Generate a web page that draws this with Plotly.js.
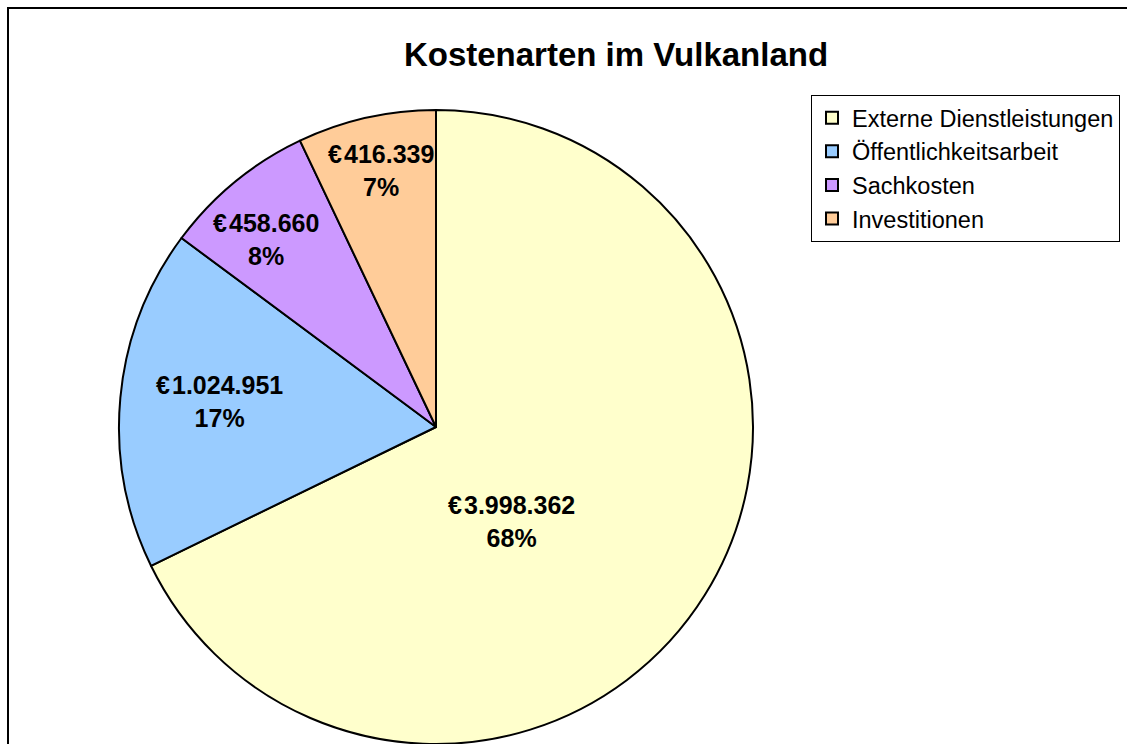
<!DOCTYPE html>
<html>
<head>
<meta charset="utf-8">
<script src="https://cdn.plot.ly/plotly-3.0.1.min.js"></script>
<style>html,body{margin:0;padding:0;background:#fff;}#chart{width:1127px;height:744px;}</style>
</head>
<body>
<div id="chart"></div>
<script>
const categories = ["Externe Dienstleistungen", "Öffentlichkeitsarbeit", "Sachkosten", "Investitionen"];
const values = [3998362, 1024951, 458660, 416339];
const colors = ["#FFFFCC", "#99CCFF", "#CC99FF", "#FFCC99"];
const chartTitle = "Kostenarten im Vulkanland";

const W = 1127, H = 744;
const FONT = "Liberation Sans, Arial, sans-serif";
const LABEL_SIZE = 25;

// data-label anchor points (pixels) as placed in the original chart
const labelPos = [[511, 521], [219, 401], [266, 239], [381, 170]];

// German number format: thousands separator "."
function fmtEuro(v) {
  return "€\u200A" + Math.round(v).toString().replace(/\B(?=(\d{3})+(?!\d))/g, ".");
}
const total = values.reduce((a, b) => a + b, 0);
const pct = values.map(v => Math.round(v / total * 100) + "%");
const labelText = values.map((v, i) => fmtEuro(v) + "<br>" + pct[i]);

const trace = {
  type: "pie",
  labels: categories,
  values: values,
  sort: false,
  direction: "clockwise",
  rotation: 0,
  marker: { colors: colors, line: { color: "#000000", width: 2 } },
  textinfo: "none",
  hoverinfo: "label+value+percent",
  domain: { x: [118 / W, 754 / W], y: [0, 1 - 110 / H] }
};

const annotations = labelText.map((t, i) => ({
  xref: "paper", yref: "paper",
  x: labelPos[i][0] / W, y: 1 - labelPos[i][1] / H,
  xanchor: "center", yanchor: "middle",
  text: "<b>" + t + "</b>", showarrow: false,
  font: { family: FONT, size: LABEL_SIZE, color: "#000000" }
}));

const layout = {
  width: W, height: H,
  margin: { l: 0, r: 0, t: 0, b: 0 },
  paper_bgcolor: "#ffffff",
  title: {
    text: "<b>" + chartTitle + "</b>",
    font: { family: FONT, size: 33, color: "#000000" },
    x: 616 / W, xanchor: "center", xref: "paper",
    y: 1 - 54 / H, yanchor: "middle", yref: "paper"
  },
  showlegend: true,
  legend: {
    x: 811 / W, xanchor: "left",
    y: 1 - 95 / H, yanchor: "top",
    bordercolor: "#000000", borderwidth: 1,
    bgcolor: "#ffffff",
    font: { family: FONT, size: 23.5, color: "#000000" },
    traceorder: "normal"
  },
  annotations: annotations,
  shapes: [{
    type: "rect", xref: "paper", yref: "paper",
    x0: 8 / W, x1: 1.2, y0: -0.2, y1: 1 - 8 / H,
    line: { color: "#000000", width: 2 }, fillcolor: "rgba(0,0,0,0)", layer: "below"
  }]
};

Plotly.newPlot("chart", [trace], layout, { displayModeBar: false, staticPlot: true });
</script>
</body>
</html>
